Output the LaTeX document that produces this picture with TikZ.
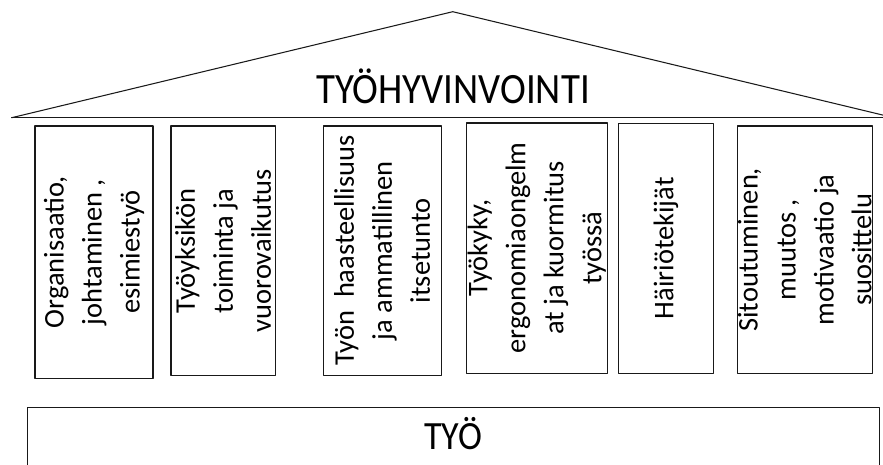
\documentclass[tikz,border=0pt]{standalone}
\usepackage{fontspec}
\setmainfont{Carlito}
\definecolor{qqqqqq}{rgb}{0.1,0.1,0.1}
\begin{document}
\begin{tikzpicture}[line cap=round,line join=round,x=1.0cm,y=1.0cm,
  pillar/.style={rotate=90,align=center,font=\fontsize{27}{36}\selectfont},
  title/.style={anchor=base,xscale=0.9,font=\fontsize{41}{48}\selectfont}]
\clip(0,0) rectangle (29.43,-15.467);
% katto
\draw [line width=1pt,color=qqqqqq] (0.39,-3.923)-- (15.09,-0.39);
\draw [line width=1pt,color=qqqqqq] (15.09,-0.39)-- (29.79,-3.923);
\draw [line width=1pt,color=qqqqqq] (29.79,-3.923)-- (0.39,-3.923);
\draw (15.1,-3.443) node[title] (roof) {TYÖHYVINVOINTI};
% pilarit
\draw [line width=1pt,color=qqqqqq] (1.167,-4.2) rectangle (5.1,-12.6);
\draw [line width=1pt,color=qqqqqq] (5.7,-4.2) rectangle (9.167,-12.517);
\draw [line width=1pt,color=qqqqqq] (10.767,-4.2) rectangle (14.7,-12.517);
\draw [line width=1pt,color=qqqqqq] (15.55,-4.1) rectangle (20.233,-12.433);
\draw [line width=1pt,color=qqqqqq] (20.617,-4.117) rectangle (23.767,-12.433);
\draw [line width=1pt,color=qqqqqq] (24.567,-4.2) rectangle (29.083,-12.45);
\draw (3.133,-8.4) node[pillar] (org) {Organisaatio,\\johtaminen ,\\esimiestyö};
\draw (7.433,-8.358) node[pillar] (yksikko) {Työyksikön\\toiminta ja\\vuorovaikutus};
\draw (12.733,-8.358) node[pillar] (haaste) {Työn\ \ haasteellisuus\\ja ammatillinen\\itsetunto};
\draw (17.892,-8.267) node[pillar] (tyokyky) {Työkyky,\\ergonomiaongelm\\at ja kuormitus\\työssä};
\draw (22.192,-8.275) node[pillar] (hairio) {Häiriötekijät};
\draw (26.825,-8.325) node[pillar] (sitoutuminen) {Sitoutuminen,\\muutos ,\\motivaatio ja\\suosittelu};
% perusta
\draw [line width=1pt,color=qqqqqq] (0.91,-13.577) rectangle (29.323,-15.8);
\draw (15.1,-14.977) node[title,font=\fontsize{38}{44}\selectfont] (tyo) {TYÖ};
\end{tikzpicture}
\end{document}
